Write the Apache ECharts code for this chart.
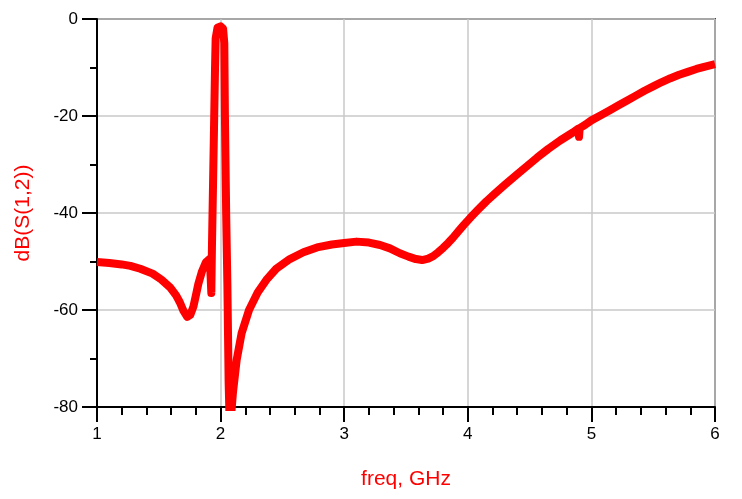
<!DOCTYPE html>
<html>
<head>
<meta charset="utf-8">
<script src="https://cdn.jsdelivr.net/npm/echarts@6/dist/echarts.min.js"></script>
<style>
html,body{margin:0;padding:0;background:#fff;}
#chart{width:742px;height:499px;}
</style>
</head>
<body>
<div id="chart"></div>
<script>
// Frequency in GHz
const freq = [
  1.00, 1.10, 1.20, 1.27, 1.35, 1.45, 1.52, 1.59, 1.64, 1.67,
  1.70, 1.73, 1.755, 1.78, 1.80, 1.82, 1.85, 1.88, 1.905, 1.915,
  1.925, 1.93, 1.945, 1.955, 1.96, 1.975, 2.00, 2.02, 2.03, 2.035,
  2.045, 2.055, 2.065, 2.075, 2.09, 2.10, 2.13, 2.17, 2.23, 2.30,
  2.37, 2.45, 2.56, 2.67, 2.78, 2.90, 3.00, 3.10, 3.20, 3.29,
  3.37, 3.45, 3.52, 3.58, 3.63, 3.68, 3.72, 3.76, 3.80, 3.84,
  3.88, 3.93, 3.97, 4.02, 4.08, 4.15, 4.22, 4.30, 4.40, 4.48,
  4.56, 4.65, 4.75, 4.85, 4.895, 4.90, 4.905, 4.95, 5.00, 5.08,
  5.15, 5.22, 5.29, 5.36, 5.43, 5.50, 5.57, 5.64, 5.71, 5.78,
  5.85, 5.92, 6.00
];
// dB(S(1,2))
const s12 = [
  -50.1, -50.3, -50.6, -50.9, -51.5, -52.5, -53.7, -55.3, -57.0, -58.4,
  -60.2, -61.4, -61.0, -59.3, -57.0, -54.6, -52.0, -50.2, -49.6, -50.5,
  -56.5, -47.0, -25.0, -10.0, -4.0, -1.8, -1.5, -2.0, -5.0, -20.0,
  -40.0, -55.0, -75.0, -85.0, -85.0, -77.0, -70.3, -64.8, -60.0, -56.4,
  -53.8, -51.5, -49.5, -48.1, -47.1, -46.5, -46.2, -45.9, -46.1, -46.6,
  -47.3, -48.3, -49.0, -49.5, -49.7, -49.4, -48.9, -48.1, -47.2, -46.2,
  -45.1, -43.6, -42.4, -41.0, -39.4, -37.6, -36.0, -34.2, -32.0, -30.3,
  -28.6, -26.8, -25.0, -23.4, -22.6, -24.3, -22.5, -21.8, -20.9, -19.8,
  -18.8, -17.8, -16.8, -15.8, -14.8, -13.9, -13.0, -12.2, -11.5, -10.9,
  -10.3, -9.8, -9.3
];
const xTicks = [1, 2, 3, 4, 5, 6];
const yTicks = [0, -20, -40, -60, -80];

const chart = echarts.init(document.getElementById('chart'));
const font = 'Liberation Sans, Arial, sans-serif';
chart.setOption({
  animation: false,
  grid: {
    left: 97, top: 19, right: 27, bottom: 92,
    show: true, borderColor: '#444', borderWidth: 2, backgroundColor: 'transparent'
  },
  xAxis: {
    type: 'value',
    min: xTicks[0], max: xTicks[xTicks.length - 1], interval: 1,
    name: 'freq, GHz', nameLocation: 'middle', nameGap: 62,
    nameTextStyle: { color: '#ff0000', fontSize: 21, fontFamily: font },
    axisLine: { show: true, onZero: false, lineStyle: { color: '#000', width: 2 } },
    axisTick: { show: true, length: 15, lineStyle: { color: '#000', width: 2 } },
    minorTick: { show: true, splitNumber: 5, length: 8, lineStyle: { color: '#000', width: 2 } },
    axisLabel: { color: '#000', fontSize: 17, fontFamily: font, margin: 19 },
    splitLine: { show: true, lineStyle: { color: '#c8c8c8', width: 1.5 } }
  },
  yAxis: {
    type: 'value',
    min: yTicks[yTicks.length - 1], max: yTicks[0], interval: 20,
    name: 'dB(S(1,2))', nameLocation: 'middle', nameGap: 63,
    nameTextStyle: { color: '#ff0000', fontSize: 21, fontFamily: font },
    axisLine: { show: true, onZero: false, lineStyle: { color: '#000', width: 2 } },
    axisTick: { show: true, length: 15, lineStyle: { color: '#000', width: 2 } },
    minorTick: { show: true, splitNumber: 2, length: 7, lineStyle: { color: '#000', width: 2 } },
    axisLabel: { color: '#000', fontSize: 17, fontFamily: font, margin: 19 },
    splitLine: { show: true, lineStyle: { color: '#c8c8c8', width: 1.5 } }
  },
  series: [{
    type: 'line',
    data: freq.map((f, i) => [f, s12[i]]),
    showSymbol: false,
    clip: true,
    lineStyle: { color: '#ff0000', width: 8, join: 'round', cap: 'butt' }
  }]
});
</script>
</body>
</html>
